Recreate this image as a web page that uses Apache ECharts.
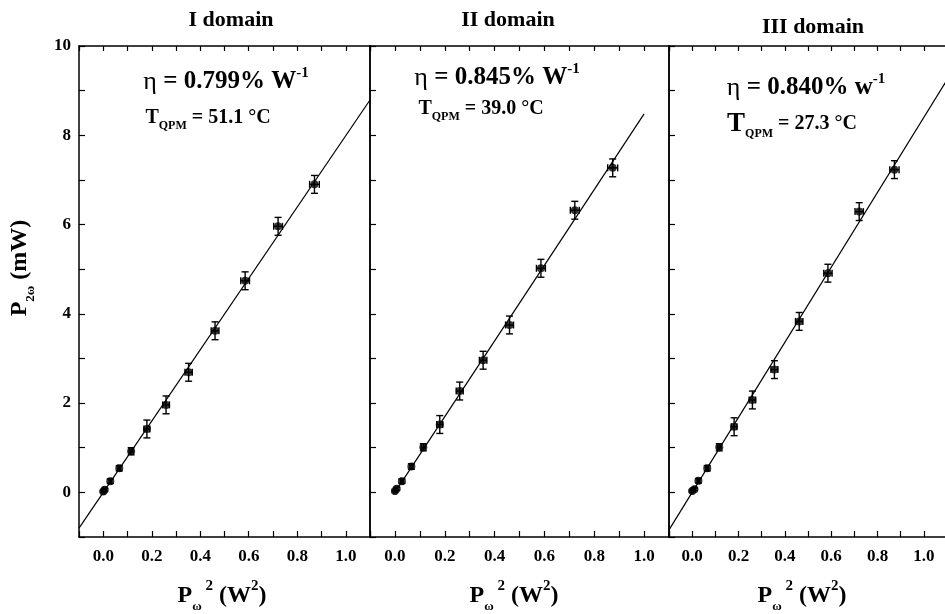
<!DOCTYPE html>
<html>
<head>
<meta charset="utf-8">
<script src="https://cdn.jsdelivr.net/npm/echarts@6/dist/echarts.min.js"></script>
<style>
html, body { margin: 0; padding: 0; background: #fff; }
#main { width: 945px; height: 614px; }
</style>
</head>
<body>
<div id="main"></div>
<script>
// I domain
var p1X = [0.0, 0.006, 0.029, 0.066, 0.115, 0.180, 0.259, 0.352, 0.461, 0.585, 0.721, 0.871];
var p1Y = [0.02, 0.06, 0.25, 0.54, 0.92, 1.42, 1.96, 2.69, 3.62, 4.74, 5.96, 6.90];
var p1XErr = [0.004, 0.004, 0.005, 0.006, 0.008, 0.012, 0.014, 0.015, 0.016, 0.018, 0.018, 0.02];
var p1YErr = [0.02, 0.03, 0.05, 0.06, 0.08, 0.2, 0.2, 0.2, 0.2, 0.2, 0.2, 0.2];
var fit1 = [[-0.1, -0.80], [1.1, 8.79]];

// II domain
var p2X = [0.0, 0.007, 0.028, 0.066, 0.114, 0.180, 0.260, 0.354, 0.460, 0.586, 0.722, 0.874];
var p2Y = [0.03, 0.08, 0.25, 0.58, 1.01, 1.52, 2.27, 2.96, 3.75, 5.02, 6.32, 7.27];
var p2XErr = [0.004, 0.004, 0.005, 0.006, 0.008, 0.012, 0.014, 0.015, 0.016, 0.018, 0.018, 0.02];
var p2YErr = [0.02, 0.03, 0.05, 0.06, 0.08, 0.2, 0.2, 0.2, 0.2, 0.2, 0.2, 0.2];
var fit2 = [[0.0, 0.0], [1.0, 8.48]];

// III domain
var p3X = [0.0, 0.010, 0.027, 0.065, 0.117, 0.181, 0.260, 0.355, 0.462, 0.586, 0.721, 0.873];
var p3Y = [0.03, 0.07, 0.26, 0.54, 1.01, 1.47, 2.07, 2.75, 3.83, 4.91, 6.29, 7.23];
var p3XErr = [0.004, 0.004, 0.005, 0.006, 0.008, 0.012, 0.014, 0.015, 0.016, 0.018, 0.018, 0.02];
var p3YErr = [0.02, 0.03, 0.05, 0.06, 0.08, 0.2, 0.2, 0.2, 0.2, 0.2, 0.2, 0.2];
var fit3 = [[-0.1, -0.84], [1.1, 9.24]];

var panelTitles = ['I domain', 'II domain', 'III domain'];

var FONT = 'Liberation Serif';
var black = '#000';

function buildErr(xs, ys, exs, eys) {
    var out = [];
    for (var i = 0; i < xs.length; i++) {
        out.push([xs[i], ys[i], exs[i], eys[i]]);
    }
    return out;
}
function buildPts(xs, ys) {
    var out = [];
    for (var i = 0; i < xs.length; i++) {
        out.push([xs[i], ys[i]]);
    }
    return out;
}

function renderErr(params, api) {
    var x = api.value(0), y = api.value(1), ex = api.value(2), ey = api.value(3);
    var t = api.coord([x, y + ey]), b = api.coord([x, y - ey]);
    var l = api.coord([x - ex, y]), r = api.coord([x + ex, y]);
    var c = 3.5;
    var st = {stroke: black, lineWidth: 1.4};
    return {
        type: 'group',
        children: [
            {type: 'line', shape: {x1: t[0], y1: t[1], x2: b[0], y2: b[1]}, style: st},
            {type: 'line', shape: {x1: t[0] - c, y1: t[1], x2: t[0] + c, y2: t[1]}, style: st},
            {type: 'line', shape: {x1: b[0] - c, y1: b[1], x2: b[0] + c, y2: b[1]}, style: st},
            {type: 'line', shape: {x1: l[0], y1: l[1], x2: r[0], y2: r[1]}, style: st},
            {type: 'line', shape: {x1: l[0], y1: l[1] - c, x2: l[0], y2: l[1] + c}, style: st},
            {type: 'line', shape: {x1: r[0], y1: r[1] - c, x2: r[0], y2: r[1] + c}, style: st}
        ]
    };
}

var grids = [
    {left: 79, width: 291, top: 46, bottom: 77, outerBoundsMode: 'none'},
    {left: 370, width: 299, top: 46, bottom: 77, outerBoundsMode: 'none'},
    {left: 669, width: 278, top: 46, bottom: 77, outerBoundsMode: 'none'}
];

var axisLine = {show: true, onZero: false, lineStyle: {color: black, width: 1.5}};
var xAxes = [], yAxes = [];
for (var g = 0; g < 3; g++) {
    xAxes.push({
        type: 'value', gridIndex: g, position: 'bottom', min: -0.1, max: 1.1, interval: 0.1,
        axisLine: axisLine, splitLine: {show: false},
        axisTick: {inside: true, length: 6, lineStyle: {color: black, width: 1.2}},
        axisLabel: {
            margin: 11, color: black, fontFamily: FONT, fontWeight: 'bold', fontSize: 17,
            formatter: function (v) {
                var k = Math.round(v * 10);
                return (k % 2 === 0 && k >= 0 && k <= 10) ? (k / 10).toFixed(1) : '';
            }
        }
    });
    xAxes.push({
        type: 'value', gridIndex: g, position: 'top', min: -0.1, max: 1.1, interval: 0.1,
        axisLine: axisLine, splitLine: {show: false},
        axisTick: {inside: true, length: 5, lineStyle: {color: black, width: 1.2}},
        axisLabel: {show: false}
    });
    yAxes.push({
        type: 'value', gridIndex: g, position: 'left', min: -1, max: 10, interval: 1,
        axisLine: axisLine, splitLine: {show: false},
        axisTick: {inside: true, length: 6, lineStyle: {color: black, width: 1.2}},
        axisLabel: {
            show: g === 0, margin: 8, color: black, fontFamily: FONT, fontWeight: 'bold', fontSize: 17,
            formatter: function (v) {
                return (v >= 0 && v % 2 === 0) ? String(v) : '';
            }
        }
    });
    yAxes.push({
        type: 'value', gridIndex: g, position: 'right', min: -1, max: 10, interval: 1,
        axisLine: axisLine, splitLine: {show: false},
        axisTick: {show: false}, axisLabel: {show: false}
    });
}

var pts = [buildPts(p1X, p1Y), buildPts(p2X, p2Y), buildPts(p3X, p3Y)];
var errs = [buildErr(p1X, p1Y, p1XErr, p1YErr), buildErr(p2X, p2Y, p2XErr, p2YErr), buildErr(p3X, p3Y, p3XErr, p3YErr)];
var fits = [fit1, fit2, fit3];

var series = [];
for (var s = 0; s < 3; s++) {
    series.push({
        type: 'line', xAxisIndex: 2 * s, yAxisIndex: 2 * s, data: fits[s],
        symbol: 'none', lineStyle: {color: black, width: 1.2}, silent: true
    });
    series.push({
        type: 'custom', xAxisIndex: 2 * s, yAxisIndex: 2 * s, data: errs[s],
        renderItem: renderErr, silent: true
    });
    series.push({
        type: 'scatter', xAxisIndex: 2 * s, yAxisIndex: 2 * s, data: pts[s],
        symbol: 'circle', symbolSize: 8, itemStyle: {color: black}, silent: true
    });
}

var rich = {
    eta: {fontFamily: FONT, fontSize: 26, lineHeight: 32, color: black},
    big: {fontFamily: FONT, fontWeight: 'bold', fontSize: 25, lineHeight: 32, color: black},
    sup: {fontFamily: FONT, fontWeight: 'bold', fontSize: 15, lineHeight: 16, verticalAlign: 'top', color: black},
    t: {fontFamily: FONT, fontWeight: 'bold', fontSize: 20, lineHeight: 28, color: black},
    tt: {fontFamily: FONT, fontWeight: 'bold', fontSize: 27, lineHeight: 32, color: black},
    sub: {fontFamily: FONT, fontWeight: 'bold', fontSize: 12, lineHeight: 14, verticalAlign: 'bottom', color: black},
    ax: {fontFamily: FONT, fontWeight: 'bold', fontSize: 24, lineHeight: 34, color: black},
    axsub: {fontFamily: FONT, fontWeight: 'bold', fontSize: 13, lineHeight: 13, verticalAlign: 'bottom', color: black},
    axsup: {fontFamily: FONT, fontWeight: 'bold', fontSize: 15, lineHeight: 18, verticalAlign: 'top', color: black}
};

function txt(x, y, text, rot) {
    return {
        type: 'text', x: x, y: y, rotation: rot || 0, silent: true,
        style: {text: text, rich: rich, align: 'center', verticalAlign: 'middle', fill: black}
    };
}
function title(x, y, text) {
    return {
        type: 'text', x: x, y: y, silent: true,
        style: {text: text, font: 'bold 22px "Liberation Serif"', fill: black, align: 'center', verticalAlign: 'middle'}
    };
}

var graphics = [
    title(231, 20, panelTitles[0]),
    title(508, 20, panelTitles[1]),
    title(813, 27, panelTitles[2]),
    txt(226, 82, '{eta|η}{big| = 0.799% W}{sup|-1}'),
    txt(208, 118, '{t|T}{sub|QPM}{t| = 51.1 °C}'),
    txt(497, 78, '{eta|η}{big| = 0.845% W}{sup|-1}'),
    txt(481, 109, '{t|T}{sub|QPM}{t| = 39.0 °C}'),
    txt(806, 88, '{eta|η}{big| = 0.840% w}{sup|-1}'),
    txt(792, 124, '{tt|T}{sub|QPM}{t| = 27.3 °C}'),
    txt(222, 596, '{ax|P}{axsub|ω}{axsup| 2}{ax| (W}{axsup|2}{ax|)}'),
    txt(514, 596, '{ax|P}{axsub|ω}{axsup| 2}{ax| (W}{axsup|2}{ax|)}'),
    txt(802, 596, '{ax|P}{axsub|ω}{axsup| 2}{ax| (W}{axsup|2}{ax|)}'),
    txt(20, 268, '{ax|P}{axsub|2ω}{ax| (mW)}', Math.PI / 2)
];

var option = {
    backgroundColor: '#fff',
    animation: false,
    grid: grids,
    xAxis: xAxes,
    yAxis: yAxes,
    series: series,
    graphic: graphics
};

var myChart = echarts.init(document.getElementById('main'));
myChart.setOption(option);
</script>
</body>
</html>
